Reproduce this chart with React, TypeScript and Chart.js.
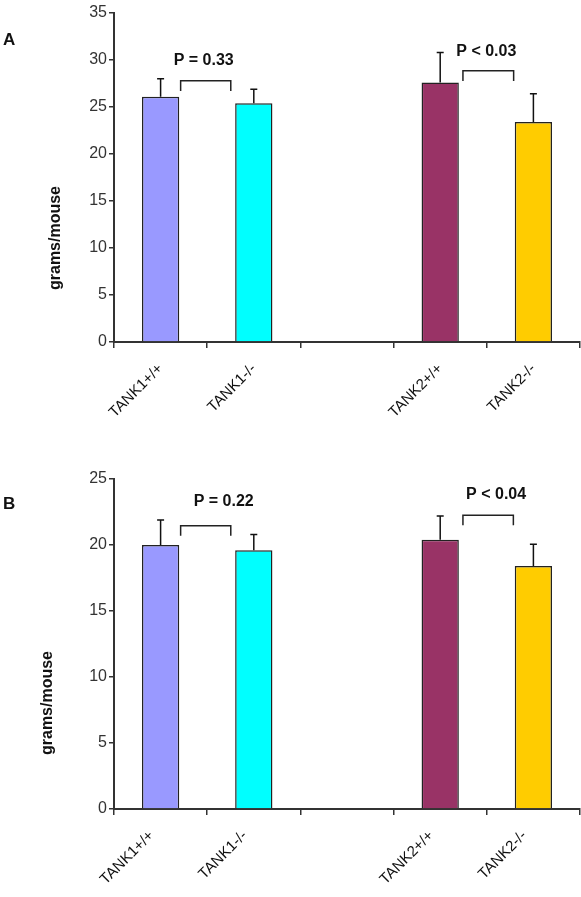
import React, { useEffect, useRef } from "react";
import { Chart, registerables } from "chart.js";
Chart.register(...registerables);

// ---------- data ----------
const categories = ["TANK1+/+", "TANK1-/-", "", "TANK2+/+", "TANK2-/-"];
const barColors = ["#9999FF", "#00FFFF", "rgba(0,0,0,0)", "#993366", "#FFCC00"];

const meansA = [26.1, 25.4, null, 27.6, 23.4];
const errorsA = [1.9, 1.5, null, 3.2, 3.0];
const pLabelsA = ["P = 0.33", "P < 0.03"];

const meansB = [20.0, 19.6, null, 20.4, 18.4];
const errorsB = [1.9, 1.2, null, 1.8, 1.65];
const pLabelsB = ["P = 0.22", "P < 0.04"];

const yMaxA = 35;
const yMaxB = 25;
const yStep = 5;
const yTitle = "grams/mouse";

// bracket anchors in data units (category index / value)
const bracketsA = [
  { from: 0.215, to: 0.753, top: 27.8, leg: 26.7, textX: 0.462, textY: 29.9 },
  { from: 3.244, to: 3.788, top: 28.86, leg: 27.77, textX: 3.495, textY: 30.88 },
];
const bracketsB = [
  { from: 0.215, to: 0.753, top: 21.46, leg: 20.7, textX: 0.677, textY: 23.26 },
  { from: 3.244, to: 3.785, top: 22.25, leg: 21.5, textX: 3.6, textY: 23.8 },
];

const FONT = "'Liberation Sans', Arial, Helvetica, sans-serif";

function makeChart(
  canvas: HTMLCanvasElement,
  panel: string,
  panelY: number,
  titleX: number,
  titleY: number,
  means: (number | null)[],
  errors: (number | null)[],
  yMax: number,
  pLabels: string[],
  brackets: any[],
  padTop: number,
  xAxisHeight: number,
  labelShift: number
) {
  const annotate = {
    id: "annotate" + panel,
    afterDatasetsDraw(chart: any) {
      const ctx = chart.ctx;
      const xs = chart.scales.x;
      const ys = chart.scales.y;
      ctx.save();
      // error bars
      ctx.strokeStyle = "#111";
      ctx.lineWidth = 1.5;
      means.forEach((m, i) => {
        const e = errors[i];
        if (m == null || e == null) return;
        const x = xs.getPixelForValue(i);
        const y0 = ys.getPixelForValue(m);
        const y1 = ys.getPixelForValue(m + e);
        ctx.beginPath();
        ctx.moveTo(x, y0);
        ctx.lineTo(x, y1);
        ctx.moveTo(x - 3.5, y1);
        ctx.lineTo(x + 3.5, y1);
        ctx.stroke();
      });
      // brackets + p labels
      const px = (v: number) => {
        const a = xs.getPixelForValue(Math.floor(v));
        const b = xs.getPixelForValue(Math.floor(v) + 1);
        return a + (b - a) * (v - Math.floor(v));
      };
      ctx.lineWidth = 1.5;
      ctx.strokeStyle = "#222";
      brackets.forEach((br, i) => {
        const x0 = px(br.from);
        const x1 = px(br.to);
        const yt = ys.getPixelForValue(br.top);
        const yl = ys.getPixelForValue(br.leg);
        ctx.beginPath();
        ctx.moveTo(x0, yl);
        ctx.lineTo(x0, yt);
        ctx.lineTo(x1, yt);
        ctx.lineTo(x1, yl);
        ctx.stroke();
        ctx.fillStyle = "#111";
        ctx.font = "bold 16px " + FONT;
        ctx.textAlign = "center";
        ctx.textBaseline = "middle";
        ctx.fillText(pLabels[i], px(br.textX), ys.getPixelForValue(br.textY));
      });
      // panel letter
      ctx.font = "bold 17px " + FONT;
      ctx.textAlign = "left";
      ctx.textBaseline = "middle";
      ctx.fillStyle = "#111";
      ctx.fillText(panel, 3, panelY);
      // y-axis title
      ctx.translate(titleX, titleY);
      ctx.rotate(-Math.PI / 2);
      ctx.font = "bold 16px " + FONT;
      ctx.textAlign = "center";
      ctx.textBaseline = "middle";
      ctx.fillText(yTitle, 0, 0);
      ctx.restore();
    },
  };

  return new Chart(canvas, {
    type: "bar",
    data: {
      labels: categories,
      datasets: [
        {
          data: means as any,
          backgroundColor: barColors,
          borderColor: "#222",
          borderWidth: 1.5,
          barPercentage: 0.4,
          categoryPercentage: 1,
        },
      ],
    },
    options: {
      animation: false,
      responsive: false,
      devicePixelRatio: 1,
      layout: { padding: { left: 0, right: 1, top: padTop, bottom: 0 } },
      plugins: { legend: { display: false }, tooltip: { enabled: false } },
      scales: {
        x: {
          offset: true,
          grid: {
            display: true,
            offset: true,
            drawOnChartArea: false,
            drawTicks: true,
            tickLength: 6,
            color: "#333",
            lineWidth: 1.5,
          },
          border: { display: true, color: "#333", width: 2 },
          ticks: {
            autoSkip: false,
            maxRotation: 45,
            minRotation: 45,
            color: "#111",
            padding: 12,
            labelOffset: labelShift,
            font: { family: FONT, size: 15 },
          },
          afterFit(scale: any) {
            scale.height = xAxisHeight;
          },
        },
        y: {
          min: 0,
          max: yMax,
          grid: {
            display: true,
            drawOnChartArea: false,
            drawTicks: true,
            tickLength: 5,
            color: "#333",
            lineWidth: 1.5,
          },
          border: { display: true, color: "#333", width: 2 },
          ticks: {
            stepSize: yStep,
            color: "#333",
            padding: 2,
            font: { family: FONT, size: 16 },
          },
          afterFit(scale: any) {
            scale.width = 114;
          },
        },
      },
    },
    plugins: [annotate],
  });
}

export default function App() {
  const refA = useRef<HTMLCanvasElement>(null);
  const refB = useRef<HTMLCanvasElement>(null);

  useEffect(() => {
    const a = makeChart(refA.current!, "A", 40, 56, 238, meansA, errorsA, yMaxA, pLabelsA, bracketsA, 13, 98, 0);
    const b = makeChart(refB.current!, "B", 64, 48, 263, meansB, errorsB, yMaxB, pLabelsB, bracketsB, 39, 88, -9);
    return () => {
      a.destroy();
      b.destroy();
    };
  }, []);

  return (
    <div style={{ position: "absolute", left: 0, top: 0, width: 581, height: 897, background: "#fff" }}>
      <canvas ref={refA} width={581} height={440} style={{ position: "absolute", left: 0, top: 0 }} />
      <canvas ref={refB} width={581} height={457} style={{ position: "absolute", left: 0, top: 440 }} />
    </div>
  );
}
